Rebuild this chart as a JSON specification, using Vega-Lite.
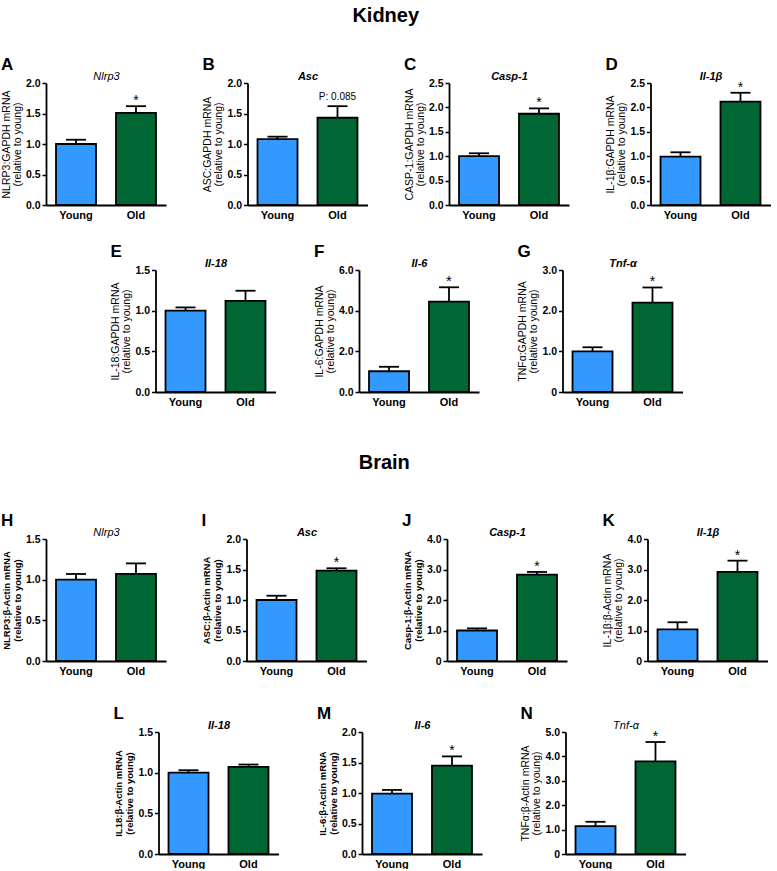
{
"$schema":"https://vega.github.io/schema/vega-lite/v6.json",
"background":"white",
"padding":{"left":1,"top":6,"right":2,"bottom":0},
"title":{"text":"Kidney","fontSize":20,"anchor":"middle","offset":30},
"spacing":46,
"vconcat":[
{"spacing":23,"vconcat":[
{"spacing":36.5,"hconcat":[
{"width":120,"height":122,"title":{"text":"A"},"data":{"values":[{"g":"Young","v":1.0,"e":1.07,"s":""},{"g":"Old","v":1.51,"e":1.62,"s":"*"}]},"layer":[{"mark":{"type":"bar","stroke":"black","strokeWidth":1.8},"encoding":{"x":{"field":"g","type":"nominal","sort":["Young","Old"],"scale":{"paddingInner":0.333,"paddingOuter":0.167},"axis":{"title":null}},"y":{"field":"v","type":"quantitative","scale":{"domain":[0,2]},"axis":{"title":["NLRP3:GAPDH mRNA","(relative to young)"],"values":[0,0.5,1,1.5,2],"format":".1f"}},"color":{"field":"g","type":"nominal","scale":{"domain":["Young","Old"],"range":["#3399ff","#006633"]},"legend":null}}},{"mark":{"type":"rule","strokeWidth":1.8,"color":"black"},"encoding":{"x":{"field":"g","type":"nominal","sort":["Young","Old"],"axis":null},"y":{"field":"v","type":"quantitative","scale":{"domain":[0,2]},"axis":{"title":["NLRP3:GAPDH mRNA","(relative to young)"],"values":[0,0.5,1,1.5,2],"format":".1f"}},"y2":{"field":"e"}}},{"mark":{"type":"tick","size":20,"thickness":1.8,"color":"black","opacity":1},"encoding":{"x":{"field":"g","type":"nominal","sort":["Young","Old"],"axis":null},"y":{"field":"e","type":"quantitative","scale":{"domain":[0,2]},"axis":{"title":["NLRP3:GAPDH mRNA","(relative to young)"],"values":[0,0.5,1,1.5,2],"format":".1f"}}}},{"mark":{"type":"text","fontSize":14,"dy":-1,"baseline":"alphabetic"},"encoding":{"x":{"field":"g","type":"nominal","sort":["Young","Old"],"axis":{"orient":"top","title":"Nlrp3","titleFontWeight":"normal"}},"y":{"field":"e","type":"quantitative","scale":{"domain":[0,2]},"axis":{"title":["NLRP3:GAPDH mRNA","(relative to young)"],"values":[0,0.5,1,1.5,2],"format":".1f"}},"text":{"field":"s"}}}],"resolve":{"axis":{"x":"independent"}}},
{"width":120,"height":122,"title":{"text":"B"},"data":{"values":[{"g":"Young","v":1.08,"e":1.12,"s":""},{"g":"Old","v":1.43,"e":1.62,"s":"P: 0.085"}]},"layer":[{"mark":{"type":"bar","stroke":"black","strokeWidth":1.8},"encoding":{"x":{"field":"g","type":"nominal","sort":["Young","Old"],"scale":{"paddingInner":0.333,"paddingOuter":0.167},"axis":{"title":null}},"y":{"field":"v","type":"quantitative","scale":{"domain":[0,2]},"axis":{"title":["ASC:GAPDH mRNA","(relative to young)"],"values":[0,0.5,1,1.5,2],"format":".1f"}},"color":{"field":"g","type":"nominal","scale":{"domain":["Young","Old"],"range":["#3399ff","#006633"]},"legend":null}}},{"mark":{"type":"rule","strokeWidth":1.8,"color":"black"},"encoding":{"x":{"field":"g","type":"nominal","sort":["Young","Old"],"axis":null},"y":{"field":"v","type":"quantitative","scale":{"domain":[0,2]},"axis":{"title":["ASC:GAPDH mRNA","(relative to young)"],"values":[0,0.5,1,1.5,2],"format":".1f"}},"y2":{"field":"e"}}},{"mark":{"type":"tick","size":20,"thickness":1.8,"color":"black","opacity":1},"encoding":{"x":{"field":"g","type":"nominal","sort":["Young","Old"],"axis":null},"y":{"field":"e","type":"quantitative","scale":{"domain":[0,2]},"axis":{"title":["ASC:GAPDH mRNA","(relative to young)"],"values":[0,0.5,1,1.5,2],"format":".1f"}}}},{"mark":{"type":"text","fontSize":10,"dy":-6,"baseline":"alphabetic"},"encoding":{"x":{"field":"g","type":"nominal","sort":["Young","Old"],"axis":{"orient":"top","title":"Asc"}},"y":{"field":"e","type":"quantitative","scale":{"domain":[0,2]},"axis":{"title":["ASC:GAPDH mRNA","(relative to young)"],"values":[0,0.5,1,1.5,2],"format":".1f"}},"text":{"field":"s"}}}],"resolve":{"axis":{"x":"independent"}}},
{"width":120,"height":122,"title":{"text":"C"},"data":{"values":[{"g":"Young","v":1.0,"e":1.06,"s":""},{"g":"Old","v":1.87,"e":1.98,"s":"*"}]},"layer":[{"mark":{"type":"bar","stroke":"black","strokeWidth":1.8},"encoding":{"x":{"field":"g","type":"nominal","sort":["Young","Old"],"scale":{"paddingInner":0.333,"paddingOuter":0.167},"axis":{"title":null}},"y":{"field":"v","type":"quantitative","scale":{"domain":[0,2.5]},"axis":{"title":["CASP-1:GAPDH mRNA","(relative to young)"],"values":[0,0.5,1,1.5,2,2.5],"format":".1f"}},"color":{"field":"g","type":"nominal","scale":{"domain":["Young","Old"],"range":["#3399ff","#006633"]},"legend":null}}},{"mark":{"type":"rule","strokeWidth":1.8,"color":"black"},"encoding":{"x":{"field":"g","type":"nominal","sort":["Young","Old"],"axis":null},"y":{"field":"v","type":"quantitative","scale":{"domain":[0,2.5]},"axis":{"title":["CASP-1:GAPDH mRNA","(relative to young)"],"values":[0,0.5,1,1.5,2,2.5],"format":".1f"}},"y2":{"field":"e"}}},{"mark":{"type":"tick","size":20,"thickness":1.8,"color":"black","opacity":1},"encoding":{"x":{"field":"g","type":"nominal","sort":["Young","Old"],"axis":null},"y":{"field":"e","type":"quantitative","scale":{"domain":[0,2.5]},"axis":{"title":["CASP-1:GAPDH mRNA","(relative to young)"],"values":[0,0.5,1,1.5,2,2.5],"format":".1f"}}}},{"mark":{"type":"text","fontSize":14,"dy":-1,"baseline":"alphabetic"},"encoding":{"x":{"field":"g","type":"nominal","sort":["Young","Old"],"axis":{"orient":"top","title":"Casp-1"}},"y":{"field":"e","type":"quantitative","scale":{"domain":[0,2.5]},"axis":{"title":["CASP-1:GAPDH mRNA","(relative to young)"],"values":[0,0.5,1,1.5,2,2.5],"format":".1f"}},"text":{"field":"s"}}}],"resolve":{"axis":{"x":"independent"}}},
{"width":120,"height":122,"title":{"text":"D"},"data":{"values":[{"g":"Young","v":0.99,"e":1.08,"s":""},{"g":"Old","v":2.12,"e":2.3,"s":"*"}]},"layer":[{"mark":{"type":"bar","stroke":"black","strokeWidth":1.8},"encoding":{"x":{"field":"g","type":"nominal","sort":["Young","Old"],"scale":{"paddingInner":0.333,"paddingOuter":0.167},"axis":{"title":null}},"y":{"field":"v","type":"quantitative","scale":{"domain":[0,2.5]},"axis":{"title":["IL-1β:GAPDH mRNA","(relative to young)"],"values":[0,0.5,1,1.5,2,2.5],"format":".1f"}},"color":{"field":"g","type":"nominal","scale":{"domain":["Young","Old"],"range":["#3399ff","#006633"]},"legend":null}}},{"mark":{"type":"rule","strokeWidth":1.8,"color":"black"},"encoding":{"x":{"field":"g","type":"nominal","sort":["Young","Old"],"axis":null},"y":{"field":"v","type":"quantitative","scale":{"domain":[0,2.5]},"axis":{"title":["IL-1β:GAPDH mRNA","(relative to young)"],"values":[0,0.5,1,1.5,2,2.5],"format":".1f"}},"y2":{"field":"e"}}},{"mark":{"type":"tick","size":20,"thickness":1.8,"color":"black","opacity":1},"encoding":{"x":{"field":"g","type":"nominal","sort":["Young","Old"],"axis":null},"y":{"field":"e","type":"quantitative","scale":{"domain":[0,2.5]},"axis":{"title":["IL-1β:GAPDH mRNA","(relative to young)"],"values":[0,0.5,1,1.5,2,2.5],"format":".1f"}}}},{"mark":{"type":"text","fontSize":14,"dy":-1,"baseline":"alphabetic"},"encoding":{"x":{"field":"g","type":"nominal","sort":["Young","Old"],"axis":{"orient":"top","title":"Il-1β"}},"y":{"field":"e","type":"quantitative","scale":{"domain":[0,2.5]},"axis":{"title":["IL-1β:GAPDH mRNA","(relative to young)"],"values":[0,0.5,1,1.5,2,2.5],"format":".1f"}},"text":{"field":"s"}}}],"resolve":{"axis":{"x":"independent"}}}
]},
{"spacing":38.5,"hconcat":[
{"width":25,"height":20,"view":{"stroke":"transparent"},"data":{"values":[]},"mark":"point","encoding":{}},
{"width":120,"height":122,"title":{"text":"E"},"data":{"values":[{"g":"Young","v":1.0,"e":1.04,"s":""},{"g":"Old","v":1.12,"e":1.245,"s":""}]},"layer":[{"mark":{"type":"bar","stroke":"black","strokeWidth":1.8},"encoding":{"x":{"field":"g","type":"nominal","sort":["Young","Old"],"scale":{"paddingInner":0.333,"paddingOuter":0.167},"axis":{"title":null}},"y":{"field":"v","type":"quantitative","scale":{"domain":[0,1.5]},"axis":{"title":["IL-18:GAPDH mRNA","(relative to young)"],"values":[0,0.5,1,1.5],"format":".1f"}},"color":{"field":"g","type":"nominal","scale":{"domain":["Young","Old"],"range":["#3399ff","#006633"]},"legend":null}}},{"mark":{"type":"rule","strokeWidth":1.8,"color":"black"},"encoding":{"x":{"field":"g","type":"nominal","sort":["Young","Old"],"axis":null},"y":{"field":"v","type":"quantitative","scale":{"domain":[0,1.5]},"axis":{"title":["IL-18:GAPDH mRNA","(relative to young)"],"values":[0,0.5,1,1.5],"format":".1f"}},"y2":{"field":"e"}}},{"mark":{"type":"tick","size":20,"thickness":1.8,"color":"black","opacity":1},"encoding":{"x":{"field":"g","type":"nominal","sort":["Young","Old"],"axis":null},"y":{"field":"e","type":"quantitative","scale":{"domain":[0,1.5]},"axis":{"title":["IL-18:GAPDH mRNA","(relative to young)"],"values":[0,0.5,1,1.5],"format":".1f"}}}},{"mark":{"type":"text","fontSize":14,"dy":-1,"baseline":"alphabetic"},"encoding":{"x":{"field":"g","type":"nominal","sort":["Young","Old"],"axis":{"orient":"top","title":"Il-18"}},"y":{"field":"e","type":"quantitative","scale":{"domain":[0,1.5]},"axis":{"title":["IL-18:GAPDH mRNA","(relative to young)"],"values":[0,0.5,1,1.5],"format":".1f"}},"text":{"field":"s"}}}],"resolve":{"axis":{"x":"independent"}}},
{"width":120,"height":122,"title":{"text":"F"},"data":{"values":[{"g":"Young","v":1.02,"e":1.24,"s":""},{"g":"Old","v":4.44,"e":5.15,"s":"*"}]},"layer":[{"mark":{"type":"bar","stroke":"black","strokeWidth":1.8},"encoding":{"x":{"field":"g","type":"nominal","sort":["Young","Old"],"scale":{"paddingInner":0.333,"paddingOuter":0.167},"axis":{"title":null}},"y":{"field":"v","type":"quantitative","scale":{"domain":[0,6]},"axis":{"title":["IL-6:GAPDH mRNA","(relative to young)"],"values":[0,2,4,6],"format":".1f"}},"color":{"field":"g","type":"nominal","scale":{"domain":["Young","Old"],"range":["#3399ff","#006633"]},"legend":null}}},{"mark":{"type":"rule","strokeWidth":1.8,"color":"black"},"encoding":{"x":{"field":"g","type":"nominal","sort":["Young","Old"],"axis":null},"y":{"field":"v","type":"quantitative","scale":{"domain":[0,6]},"axis":{"title":["IL-6:GAPDH mRNA","(relative to young)"],"values":[0,2,4,6],"format":".1f"}},"y2":{"field":"e"}}},{"mark":{"type":"tick","size":20,"thickness":1.8,"color":"black","opacity":1},"encoding":{"x":{"field":"g","type":"nominal","sort":["Young","Old"],"axis":null},"y":{"field":"e","type":"quantitative","scale":{"domain":[0,6]},"axis":{"title":["IL-6:GAPDH mRNA","(relative to young)"],"values":[0,2,4,6],"format":".1f"}}}},{"mark":{"type":"text","fontSize":15,"dy":-1,"baseline":"alphabetic"},"encoding":{"x":{"field":"g","type":"nominal","sort":["Young","Old"],"axis":{"orient":"top","title":"Il-6"}},"y":{"field":"e","type":"quantitative","scale":{"domain":[0,6]},"axis":{"title":["IL-6:GAPDH mRNA","(relative to young)"],"values":[0,2,4,6],"format":".1f"}},"text":{"field":"s"}}}],"resolve":{"axis":{"x":"independent"}}},
{"width":120,"height":122,"title":{"text":"G"},"data":{"values":[{"g":"Young","v":1.0,"e":1.1,"s":""},{"g":"Old","v":2.2,"e":2.57,"s":"*"}]},"layer":[{"mark":{"type":"bar","stroke":"black","strokeWidth":1.8},"encoding":{"x":{"field":"g","type":"nominal","sort":["Young","Old"],"scale":{"paddingInner":0.333,"paddingOuter":0.167},"axis":{"title":null}},"y":{"field":"v","type":"quantitative","scale":{"domain":[0,3]},"axis":{"title":["TNFα:GAPDH mRNA","(relative to young)"],"values":[0,1,2,3],"labelExpr":"datum.value == 0 ? '0' : format(datum.value, '.1f')"}},"color":{"field":"g","type":"nominal","scale":{"domain":["Young","Old"],"range":["#3399ff","#006633"]},"legend":null}}},{"mark":{"type":"rule","strokeWidth":1.8,"color":"black"},"encoding":{"x":{"field":"g","type":"nominal","sort":["Young","Old"],"axis":null},"y":{"field":"v","type":"quantitative","scale":{"domain":[0,3]},"axis":{"title":["TNFα:GAPDH mRNA","(relative to young)"],"values":[0,1,2,3],"labelExpr":"datum.value == 0 ? '0' : format(datum.value, '.1f')"}},"y2":{"field":"e"}}},{"mark":{"type":"tick","size":20,"thickness":1.8,"color":"black","opacity":1},"encoding":{"x":{"field":"g","type":"nominal","sort":["Young","Old"],"axis":null},"y":{"field":"e","type":"quantitative","scale":{"domain":[0,3]},"axis":{"title":["TNFα:GAPDH mRNA","(relative to young)"],"values":[0,1,2,3],"labelExpr":"datum.value == 0 ? '0' : format(datum.value, '.1f')"}}}},{"mark":{"type":"text","fontSize":14,"dy":-1,"baseline":"alphabetic"},"encoding":{"x":{"field":"g","type":"nominal","sort":["Young","Old"],"axis":{"orient":"top","title":"Tnf-α"}},"y":{"field":"e","type":"quantitative","scale":{"domain":[0,3]},"axis":{"title":["TNFα:GAPDH mRNA","(relative to young)"],"values":[0,1,2,3],"labelExpr":"datum.value == 0 ? '0' : format(datum.value, '.1f')"}},"text":{"field":"s"}}}],"resolve":{"axis":{"x":"independent"}}}
]}
]},
{"title":{"text":"Brain","fontSize":20,"anchor":"middle","offset":39},"spacing":29,"vconcat":[
{"spacing":35.5,"hconcat":[
{"width":120,"height":122,"title":{"text":"H"},"data":{"values":[{"g":"Young","v":1.0,"e":1.07,"s":""},{"g":"Old","v":1.07,"e":1.2,"s":""}]},"layer":[{"mark":{"type":"bar","stroke":"black","strokeWidth":1.8},"encoding":{"x":{"field":"g","type":"nominal","sort":["Young","Old"],"scale":{"paddingInner":0.333,"paddingOuter":0.167},"axis":{"title":null}},"y":{"field":"v","type":"quantitative","scale":{"domain":[0,1.5]},"axis":{"title":["NLRP3:β-Actin mRNA","(relative to young)"],"titleFontWeight":"bold","titleFontSize":9.5,"values":[0,0.5,1,1.5],"format":".1f"}},"color":{"field":"g","type":"nominal","scale":{"domain":["Young","Old"],"range":["#3399ff","#006633"]},"legend":null}}},{"mark":{"type":"rule","strokeWidth":1.8,"color":"black"},"encoding":{"x":{"field":"g","type":"nominal","sort":["Young","Old"],"axis":null},"y":{"field":"v","type":"quantitative","scale":{"domain":[0,1.5]},"axis":{"title":["NLRP3:β-Actin mRNA","(relative to young)"],"titleFontWeight":"bold","titleFontSize":9.5,"values":[0,0.5,1,1.5],"format":".1f"}},"y2":{"field":"e"}}},{"mark":{"type":"tick","size":20,"thickness":1.8,"color":"black","opacity":1},"encoding":{"x":{"field":"g","type":"nominal","sort":["Young","Old"],"axis":null},"y":{"field":"e","type":"quantitative","scale":{"domain":[0,1.5]},"axis":{"title":["NLRP3:β-Actin mRNA","(relative to young)"],"titleFontWeight":"bold","titleFontSize":9.5,"values":[0,0.5,1,1.5],"format":".1f"}}}},{"mark":{"type":"text","fontSize":14,"dy":-1,"baseline":"alphabetic"},"encoding":{"x":{"field":"g","type":"nominal","sort":["Young","Old"],"axis":{"orient":"top","title":"Nlrp3","titleFontWeight":"normal"}},"y":{"field":"e","type":"quantitative","scale":{"domain":[0,1.5]},"axis":{"title":["NLRP3:β-Actin mRNA","(relative to young)"],"titleFontWeight":"bold","titleFontSize":9.5,"values":[0,0.5,1,1.5],"format":".1f"}},"text":{"field":"s"}}}],"resolve":{"axis":{"x":"independent"}}},
{"width":120,"height":122,"title":{"text":"I"},"data":{"values":[{"g":"Young","v":1.0,"e":1.07,"s":""},{"g":"Old","v":1.48,"e":1.52,"s":"*"}]},"layer":[{"mark":{"type":"bar","stroke":"black","strokeWidth":1.8},"encoding":{"x":{"field":"g","type":"nominal","sort":["Young","Old"],"scale":{"paddingInner":0.333,"paddingOuter":0.167},"axis":{"title":null}},"y":{"field":"v","type":"quantitative","scale":{"domain":[0,2]},"axis":{"title":["ASC:β-Actin mRNA","(relative to young)"],"titleFontWeight":"bold","titleFontSize":9.5,"values":[0,0.5,1,1.5,2],"format":".1f"}},"color":{"field":"g","type":"nominal","scale":{"domain":["Young","Old"],"range":["#3399ff","#006633"]},"legend":null}}},{"mark":{"type":"rule","strokeWidth":1.8,"color":"black"},"encoding":{"x":{"field":"g","type":"nominal","sort":["Young","Old"],"axis":null},"y":{"field":"v","type":"quantitative","scale":{"domain":[0,2]},"axis":{"title":["ASC:β-Actin mRNA","(relative to young)"],"titleFontWeight":"bold","titleFontSize":9.5,"values":[0,0.5,1,1.5,2],"format":".1f"}},"y2":{"field":"e"}}},{"mark":{"type":"tick","size":20,"thickness":1.8,"color":"black","opacity":1},"encoding":{"x":{"field":"g","type":"nominal","sort":["Young","Old"],"axis":null},"y":{"field":"e","type":"quantitative","scale":{"domain":[0,2]},"axis":{"title":["ASC:β-Actin mRNA","(relative to young)"],"titleFontWeight":"bold","titleFontSize":9.5,"values":[0,0.5,1,1.5,2],"format":".1f"}}}},{"mark":{"type":"text","fontSize":14,"dy":-1,"baseline":"alphabetic"},"encoding":{"x":{"field":"g","type":"nominal","sort":["Young","Old"],"axis":{"orient":"top","title":"Asc"}},"y":{"field":"e","type":"quantitative","scale":{"domain":[0,2]},"axis":{"title":["ASC:β-Actin mRNA","(relative to young)"],"titleFontWeight":"bold","titleFontSize":9.5,"values":[0,0.5,1,1.5,2],"format":".1f"}},"text":{"field":"s"}}}],"resolve":{"axis":{"x":"independent"}}},
{"width":120,"height":122,"title":{"text":"J"},"data":{"values":[{"g":"Young","v":1.0,"e":1.07,"s":""},{"g":"Old","v":2.83,"e":2.92,"s":"*"}]},"layer":[{"mark":{"type":"bar","stroke":"black","strokeWidth":1.8},"encoding":{"x":{"field":"g","type":"nominal","sort":["Young","Old"],"scale":{"paddingInner":0.333,"paddingOuter":0.167},"axis":{"title":null}},"y":{"field":"v","type":"quantitative","scale":{"domain":[0,4]},"axis":{"title":["Casp-1:β-Actin mRNA","(relative to young)"],"titleFontWeight":"bold","titleFontSize":9.5,"values":[0,1,2,3,4],"labelExpr":"datum.value == 0 ? '0' : format(datum.value, '.1f')"}},"color":{"field":"g","type":"nominal","scale":{"domain":["Young","Old"],"range":["#3399ff","#006633"]},"legend":null}}},{"mark":{"type":"rule","strokeWidth":1.8,"color":"black"},"encoding":{"x":{"field":"g","type":"nominal","sort":["Young","Old"],"axis":null},"y":{"field":"v","type":"quantitative","scale":{"domain":[0,4]},"axis":{"title":["Casp-1:β-Actin mRNA","(relative to young)"],"titleFontWeight":"bold","titleFontSize":9.5,"values":[0,1,2,3,4],"labelExpr":"datum.value == 0 ? '0' : format(datum.value, '.1f')"}},"y2":{"field":"e"}}},{"mark":{"type":"tick","size":20,"thickness":1.8,"color":"black","opacity":1},"encoding":{"x":{"field":"g","type":"nominal","sort":["Young","Old"],"axis":null},"y":{"field":"e","type":"quantitative","scale":{"domain":[0,4]},"axis":{"title":["Casp-1:β-Actin mRNA","(relative to young)"],"titleFontWeight":"bold","titleFontSize":9.5,"values":[0,1,2,3,4],"labelExpr":"datum.value == 0 ? '0' : format(datum.value, '.1f')"}}}},{"mark":{"type":"text","fontSize":14,"dy":-1,"baseline":"alphabetic"},"encoding":{"x":{"field":"g","type":"nominal","sort":["Young","Old"],"axis":{"orient":"top","title":"Casp-1"}},"y":{"field":"e","type":"quantitative","scale":{"domain":[0,4]},"axis":{"title":["Casp-1:β-Actin mRNA","(relative to young)"],"titleFontWeight":"bold","titleFontSize":9.5,"values":[0,1,2,3,4],"labelExpr":"datum.value == 0 ? '0' : format(datum.value, '.1f')"}},"text":{"field":"s"}}}],"resolve":{"axis":{"x":"independent"}}},
{"width":120,"height":122,"title":{"text":"K"},"data":{"values":[{"g":"Young","v":1.04,"e":1.27,"s":""},{"g":"Old","v":2.92,"e":3.29,"s":"*"}]},"layer":[{"mark":{"type":"bar","stroke":"black","strokeWidth":1.8},"encoding":{"x":{"field":"g","type":"nominal","sort":["Young","Old"],"scale":{"paddingInner":0.333,"paddingOuter":0.167},"axis":{"title":null}},"y":{"field":"v","type":"quantitative","scale":{"domain":[0,4]},"axis":{"title":["IL-1β:β-Actin mRNA","(relative to young)"],"values":[0,1,2,3,4],"labelExpr":"datum.value == 0 ? '0' : format(datum.value, '.1f')"}},"color":{"field":"g","type":"nominal","scale":{"domain":["Young","Old"],"range":["#3399ff","#006633"]},"legend":null}}},{"mark":{"type":"rule","strokeWidth":1.8,"color":"black"},"encoding":{"x":{"field":"g","type":"nominal","sort":["Young","Old"],"axis":null},"y":{"field":"v","type":"quantitative","scale":{"domain":[0,4]},"axis":{"title":["IL-1β:β-Actin mRNA","(relative to young)"],"values":[0,1,2,3,4],"labelExpr":"datum.value == 0 ? '0' : format(datum.value, '.1f')"}},"y2":{"field":"e"}}},{"mark":{"type":"tick","size":20,"thickness":1.8,"color":"black","opacity":1},"encoding":{"x":{"field":"g","type":"nominal","sort":["Young","Old"],"axis":null},"y":{"field":"e","type":"quantitative","scale":{"domain":[0,4]},"axis":{"title":["IL-1β:β-Actin mRNA","(relative to young)"],"values":[0,1,2,3,4],"labelExpr":"datum.value == 0 ? '0' : format(datum.value, '.1f')"}}}},{"mark":{"type":"text","fontSize":14,"dy":-1,"baseline":"alphabetic"},"encoding":{"x":{"field":"g","type":"nominal","sort":["Young","Old"],"axis":{"orient":"top","title":"Il-1β"}},"y":{"field":"e","type":"quantitative","scale":{"domain":[0,4]},"axis":{"title":["IL-1β:β-Actin mRNA","(relative to young)"],"values":[0,1,2,3,4],"labelExpr":"datum.value == 0 ? '0' : format(datum.value, '.1f')"}},"text":{"field":"s"}}}],"resolve":{"axis":{"x":"independent"}}}
]},
{"spacing":38.5,"hconcat":[
{"width":28,"height":20,"view":{"stroke":"transparent"},"data":{"values":[]},"mark":"point","encoding":{}},
{"width":120,"height":122,"title":{"text":"L"},"data":{"values":[{"g":"Young","v":1.0,"e":1.03,"s":""},{"g":"Old","v":1.07,"e":1.1,"s":""}]},"layer":[{"mark":{"type":"bar","stroke":"black","strokeWidth":1.8},"encoding":{"x":{"field":"g","type":"nominal","sort":["Young","Old"],"scale":{"paddingInner":0.333,"paddingOuter":0.167},"axis":{"title":null}},"y":{"field":"v","type":"quantitative","scale":{"domain":[0,1.5]},"axis":{"title":["IL18:β-Actin mRNA","(relative to young)"],"titleFontWeight":"bold","titleFontSize":9.5,"values":[0,0.5,1,1.5],"format":".1f"}},"color":{"field":"g","type":"nominal","scale":{"domain":["Young","Old"],"range":["#3399ff","#006633"]},"legend":null}}},{"mark":{"type":"rule","strokeWidth":1.8,"color":"black"},"encoding":{"x":{"field":"g","type":"nominal","sort":["Young","Old"],"axis":null},"y":{"field":"v","type":"quantitative","scale":{"domain":[0,1.5]},"axis":{"title":["IL18:β-Actin mRNA","(relative to young)"],"titleFontWeight":"bold","titleFontSize":9.5,"values":[0,0.5,1,1.5],"format":".1f"}},"y2":{"field":"e"}}},{"mark":{"type":"tick","size":20,"thickness":1.8,"color":"black","opacity":1},"encoding":{"x":{"field":"g","type":"nominal","sort":["Young","Old"],"axis":null},"y":{"field":"e","type":"quantitative","scale":{"domain":[0,1.5]},"axis":{"title":["IL18:β-Actin mRNA","(relative to young)"],"titleFontWeight":"bold","titleFontSize":9.5,"values":[0,0.5,1,1.5],"format":".1f"}}}},{"mark":{"type":"text","fontSize":14,"dy":-1,"baseline":"alphabetic"},"encoding":{"x":{"field":"g","type":"nominal","sort":["Young","Old"],"axis":{"orient":"top","title":"Il-18"}},"y":{"field":"e","type":"quantitative","scale":{"domain":[0,1.5]},"axis":{"title":["IL18:β-Actin mRNA","(relative to young)"],"titleFontWeight":"bold","titleFontSize":9.5,"values":[0,0.5,1,1.5],"format":".1f"}},"text":{"field":"s"}}}],"resolve":{"axis":{"x":"independent"}}},
{"width":120,"height":122,"title":{"text":"M"},"data":{"values":[{"g":"Young","v":0.99,"e":1.05,"s":""},{"g":"Old","v":1.45,"e":1.6,"s":"*"}]},"layer":[{"mark":{"type":"bar","stroke":"black","strokeWidth":1.8},"encoding":{"x":{"field":"g","type":"nominal","sort":["Young","Old"],"scale":{"paddingInner":0.333,"paddingOuter":0.167},"axis":{"title":null}},"y":{"field":"v","type":"quantitative","scale":{"domain":[0,2]},"axis":{"title":["IL-6:β-Actin mRNA","(relative to young)"],"titleFontWeight":"bold","titleFontSize":9.5,"values":[0,0.5,1,1.5,2],"format":".1f"}},"color":{"field":"g","type":"nominal","scale":{"domain":["Young","Old"],"range":["#3399ff","#006633"]},"legend":null}}},{"mark":{"type":"rule","strokeWidth":1.8,"color":"black"},"encoding":{"x":{"field":"g","type":"nominal","sort":["Young","Old"],"axis":null},"y":{"field":"v","type":"quantitative","scale":{"domain":[0,2]},"axis":{"title":["IL-6:β-Actin mRNA","(relative to young)"],"titleFontWeight":"bold","titleFontSize":9.5,"values":[0,0.5,1,1.5,2],"format":".1f"}},"y2":{"field":"e"}}},{"mark":{"type":"tick","size":20,"thickness":1.8,"color":"black","opacity":1},"encoding":{"x":{"field":"g","type":"nominal","sort":["Young","Old"],"axis":null},"y":{"field":"e","type":"quantitative","scale":{"domain":[0,2]},"axis":{"title":["IL-6:β-Actin mRNA","(relative to young)"],"titleFontWeight":"bold","titleFontSize":9.5,"values":[0,0.5,1,1.5,2],"format":".1f"}}}},{"mark":{"type":"text","fontSize":14,"dy":-1,"baseline":"alphabetic"},"encoding":{"x":{"field":"g","type":"nominal","sort":["Young","Old"],"axis":{"orient":"top","title":"Il-6"}},"y":{"field":"e","type":"quantitative","scale":{"domain":[0,2]},"axis":{"title":["IL-6:β-Actin mRNA","(relative to young)"],"titleFontWeight":"bold","titleFontSize":9.5,"values":[0,0.5,1,1.5,2],"format":".1f"}},"text":{"field":"s"}}}],"resolve":{"axis":{"x":"independent"}}},
{"width":120,"height":122,"title":{"text":"N"},"data":{"values":[{"g":"Young","v":1.14,"e":1.32,"s":""},{"g":"Old","v":3.8,"e":4.59,"s":"*"}]},"layer":[{"mark":{"type":"bar","stroke":"black","strokeWidth":1.8},"encoding":{"x":{"field":"g","type":"nominal","sort":["Young","Old"],"scale":{"paddingInner":0.333,"paddingOuter":0.167},"axis":{"title":null}},"y":{"field":"v","type":"quantitative","scale":{"domain":[0,5]},"axis":{"title":["TNFα:β-Actin mRNA","(relative to young)"],"values":[0,1,2,3,4,5],"labelExpr":"datum.value == 0 ? '0' : format(datum.value, '.1f')"}},"color":{"field":"g","type":"nominal","scale":{"domain":["Young","Old"],"range":["#3399ff","#006633"]},"legend":null}}},{"mark":{"type":"rule","strokeWidth":1.8,"color":"black"},"encoding":{"x":{"field":"g","type":"nominal","sort":["Young","Old"],"axis":null},"y":{"field":"v","type":"quantitative","scale":{"domain":[0,5]},"axis":{"title":["TNFα:β-Actin mRNA","(relative to young)"],"values":[0,1,2,3,4,5],"labelExpr":"datum.value == 0 ? '0' : format(datum.value, '.1f')"}},"y2":{"field":"e"}}},{"mark":{"type":"tick","size":20,"thickness":1.8,"color":"black","opacity":1},"encoding":{"x":{"field":"g","type":"nominal","sort":["Young","Old"],"axis":null},"y":{"field":"e","type":"quantitative","scale":{"domain":[0,5]},"axis":{"title":["TNFα:β-Actin mRNA","(relative to young)"],"values":[0,1,2,3,4,5],"labelExpr":"datum.value == 0 ? '0' : format(datum.value, '.1f')"}}}},{"mark":{"type":"text","fontSize":14,"dy":-1,"baseline":"alphabetic"},"encoding":{"x":{"field":"g","type":"nominal","sort":["Young","Old"],"axis":{"orient":"top","title":"Tnf-α","titleFontWeight":"normal"}},"y":{"field":"e","type":"quantitative","scale":{"domain":[0,5]},"axis":{"title":["TNFα:β-Actin mRNA","(relative to young)"],"values":[0,1,2,3,4,5],"labelExpr":"datum.value == 0 ? '0' : format(datum.value, '.1f')"}},"text":{"field":"s"}}}],"resolve":{"axis":{"x":"independent"}}}
]}
]}
],
"config":{
"font":"Liberation Sans",
"view":{"stroke":null},
"title":{"font":"Liberation Sans","fontSize":17,"fontWeight":"bold","anchor":"start","color":"black","offset":-4},
"axis":{"grid":false,"domainColor":"black","domainWidth":1.8,"tickColor":"black","tickWidth":1.5,"labelColor":"black","titleColor":"black","labelFont":"Liberation Sans","titleFont":"Liberation Sans","labelFontWeight":"bold"},
"axisY":{"tickSize":4,"labelPadding":2,"labelFontSize":10.5,"minExtent":21,"maxExtent":21,"titlePadding":3,"titleFontSize":10.5,"titleFontWeight":"normal","titleLineHeight":11},
"axisBottom":{"ticks":false,"labelFontSize":11,"labelAngle":0,"labelPadding":4},
"axisTop":{"labels":false,"ticks":false,"domain":false,"titleFontStyle":"italic","titleFontWeight":"bold","titleFontSize":11,"titlePadding":2},
"text":{"color":"black","font":"Liberation Sans"}
}
}
